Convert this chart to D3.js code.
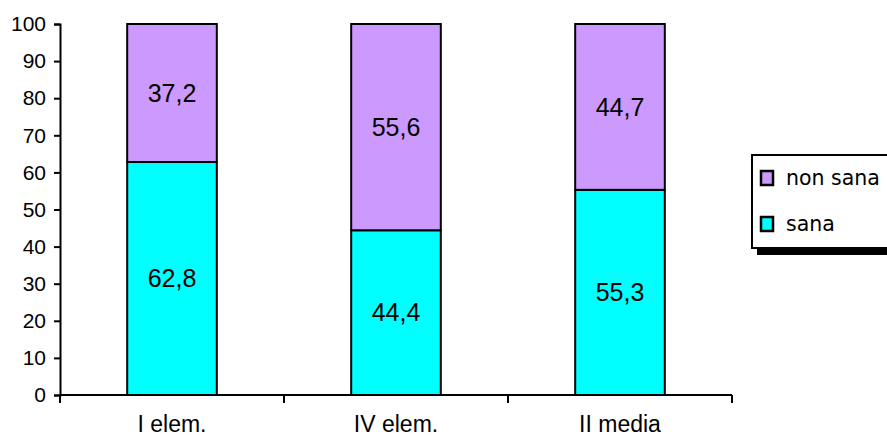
<!DOCTYPE html>
<html>
<head>
<meta charset="utf-8">
<script src="https://cdn.jsdelivr.net/npm/d3@7"></script>
<style>
  body { margin: 0; background: #fff; }
  svg { display: block; }
</style>
</head>
<body>
<svg id="chart" width="887" height="437"></svg>
<script>
// Stacked percentage of "sana" / "non sana" by school class
const categories = ["I elem.", "IV elem.", "II media"];
const sana = [62.8, 44.4, 55.3];
const nonSana = [37.2, 55.6, 44.7];
const seriesNames = ["sana", "non sana"];
const seriesColors = ["#00FFFF", "#CC99FF"];
const yTicks = [0, 10, 20, 30, 40, 50, 60, 70, 80, 90, 100];

const svg = d3.select("#chart");
const plotLeft = 60, plotRight = 732, plotTop = 24, plotBottom = 395;

const x = d3.scaleBand().domain(categories).range([plotLeft, plotRight]).padding(0);
const y = d3.scaleLinear().domain([0, 100]).range([plotBottom, plotTop]);
const barW = x.bandwidth() * 0.4;

const rows = categories.map((c, i) => ({ cat: c, sana: sana[i], "non sana": nonSana[i] }));
const stack = d3.stack().keys(seriesNames)(rows);

const fmt = v => String(v).replace(".", ",");

stack.forEach((layer, li) => {
  const key = seriesNames[li];
  const g = svg.append("g");
  g.selectAll("rect").data(layer).join("rect")
    .attr("x", d => x(d.data.cat) + (x.bandwidth() - barW) / 2)
    .attr("y", d => y(d[1]))
    .attr("width", barW)
    .attr("height", d => y(d[0]) - y(d[1]))
    .attr("fill", seriesColors[li])
    .attr("stroke", "#000")
    .attr("stroke-width", 2);
  g.selectAll("text").data(layer).join("text")
    .attr("x", d => x(d.data.cat) + x.bandwidth() / 2)
    .attr("y", d => (y(d[0]) + y(d[1])) / 2)
    .attr("dy", "0.35em")
    .attr("text-anchor", "middle")
    .attr("font-family", "Liberation Sans, Arial, sans-serif")
    .attr("font-size", 25)
    .attr("fill", "#000")
    .text(d => fmt(d.data[key]));
});

// Y axis
const yAxis = svg.append("g")
  .attr("transform", `translate(${plotLeft},0)`)
  .call(d3.axisLeft(y).tickValues(yTicks).tickSize(6).tickPadding(8));
yAxis.select(".domain").attr("stroke-width", 2);
yAxis.selectAll(".tick line").attr("stroke-width", 2);
yAxis.selectAll("text")
  .attr("font-family", "Liberation Sans, Arial, sans-serif")
  .attr("font-size", 21)
  .attr("fill", "#000");

// X axis with ticks at category boundaries
const xAxisG = svg.append("g");
xAxisG.append("line")
  .attr("x1", plotLeft).attr("x2", plotRight)
  .attr("y1", plotBottom).attr("y2", plotBottom)
  .attr("stroke", "#000").attr("stroke-width", 2);
const boundaries = categories.map(c => x(c)).concat([x(categories[categories.length - 1]) + x.bandwidth()]);
xAxisG.selectAll("line.tick").data(boundaries).join("line")
  .attr("class", "tick")
  .attr("x1", d => d).attr("x2", d => d)
  .attr("y1", plotBottom).attr("y2", plotBottom + 8)
  .attr("stroke", "#000").attr("stroke-width", 2);
xAxisG.selectAll("text").data(categories).join("text")
  .attr("x", d => x(d) + x.bandwidth() / 2)
  .attr("y", 432)
  .attr("text-anchor", "middle")
  .attr("font-family", "Liberation Sans, Arial, sans-serif")
  .attr("font-size", 23)
  .attr("fill", "#000")
  .text(d => d);

// Legend
const legend = svg.append("g");
legend.append("rect")
  .attr("x", 757).attr("y", 160).attr("width", 140).attr("height", 95)
  .attr("fill", "#000");
legend.append("rect")
  .attr("x", 752).attr("y", 155).attr("width", 140).attr("height", 93)
  .attr("fill", "#fff").attr("stroke", "#000").attr("stroke-width", 2);
const legendItems = [
  { name: seriesNames[1], color: seriesColors[1], y: 171 },
  { name: seriesNames[0], color: seriesColors[0], y: 217 }
];
legendItems.forEach(it => {
  legend.append("rect")
    .attr("x", 761).attr("y", it.y).attr("width", 12).attr("height", 14)
    .attr("fill", it.color).attr("stroke", "#000").attr("stroke-width", 2.5);
  legend.append("text")
    .attr("x", 786).attr("y", it.y + 7)
    .attr("dy", "0.35em")
    .attr("font-family", "'Comic Sans MS', 'DejaVu Sans', sans-serif")
    .attr("font-size", 20.5)
    .attr("fill", "#000")
    .text(it.name);
});
</script>
</body>
</html>
